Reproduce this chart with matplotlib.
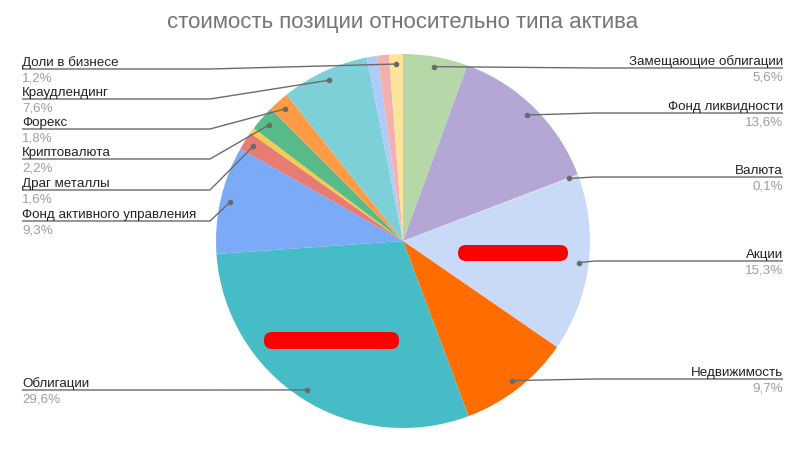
import matplotlib
matplotlib.use('Agg')
import matplotlib.pyplot as plt
import numpy as np
from matplotlib.patches import FancyBboxPatch

# ---- data ----
categories = ['Замещающие облигации', 'Фонд ликвидности', 'Валюта', 'Акции',
              'Недвижимость', 'Облигации', 'Фонд активного управления',
              'Драг металлы', '', 'Криптовалюта', 'Форекс', 'Краудлендинг',
              '', '', 'Доли в бизнесе']
values = [5.6, 13.6, 0.1, 15.3, 9.7, 29.6, 9.3, 1.6, 0.5, 2.2, 1.8, 7.6, 0.9, 1.0, 1.2]
colors = ['#b6d7a8', '#b4a7d6', '#d9d9d9', '#c9daf8', '#ff6d01', '#46bdc6',
          '#7baaf7', '#e67c73', '#f7cb4d', '#57bb8a', '#ff9a45', '#7ed0d8',
          '#aecbfa', '#f4b0ad', '#fde49b']
title = 'стоимость позиции относительно типа актива'

# ---- layout (pixels, top-origin) ----
W, H = 805, 449
cx, cy_top, R = 403, 241, 187
label_line_y = {'Замещающие облигации': 68, 'Фонд ликвидности': 113, 'Валюта': 177,
                'Акции': 261, 'Недвижимость': 379, 'Облигации': 390,
                'Фонд активного управления': 221, 'Драг металлы': 190,
                'Криптовалюта': 159, 'Форекс': 129, 'Краудлендинг': 99,
                'Доли в бизнесе': 69}
left_x, left_elbow = 22, 210
right_x, right_elbow = 783, 595
FONT = 'Liberation Sans'
FS = 9.6

fig = plt.figure(figsize=(W / 100, H / 100), dpi=100)
ax = fig.add_axes([0, 0, 1, 1])
cy = H - cy_top
wedges, _ = ax.pie(values, colors=colors, startangle=90, counterclock=False,
                   radius=R, center=(cx, cy), wedgeprops=dict(linewidth=0))
ax.set_xlim(0, W)
ax.set_ylim(0, H)
ax.set_aspect('equal')
ax.axis('off')

line_col = '#6b6b6b'
for w, name, v in zip(wedges, categories, values):
    if not name:
        continue
    th = np.deg2rad((w.theta1 + w.theta2) / 2)
    dx, dy = cx + 0.947 * R * np.cos(th), cy + 0.947 * R * np.sin(th)
    ly = H - label_line_y[name]
    pct = f'{v:.1f}%'.replace('.', ',')
    if np.cos(th) < 0:
        xs = [left_x, left_elbow, dx]
        tx, ha = left_x, 'left'
    else:
        xs = [right_x, right_elbow, dx]
        tx, ha = right_x, 'right'
    ax.plot(xs, [ly, ly, dy], color=line_col, lw=1, solid_capstyle='butt', zorder=3)
    ax.plot([dx], [dy], 'o', ms=3, color=line_col, zorder=4)
    ax.text(tx, ly + 3, name, ha=ha, va='baseline', fontsize=FS, color='#222222',
            family=FONT)
    ax.text(tx, ly - 12.5, pct, ha=ha, va='baseline', fontsize=FS, color='#9e9e9e',
            family=FONT)

ax.text(W / 2, H - 12, title, ha='center', va='top', fontsize=16,
        color='#757575', family=FONT)

# red redaction marks
for (x0, y0, x1, y1) in [(458, 245, 568, 261), (264, 332, 399, 349)]:
    ax.add_patch(FancyBboxPatch((x0, H - y1), x1 - x0, y1 - y0,
                                boxstyle='round,pad=0,rounding_size=8',
                                fc='#ff0000', ec='none', zorder=5))

fig.savefig('out.png', dpi=100)
